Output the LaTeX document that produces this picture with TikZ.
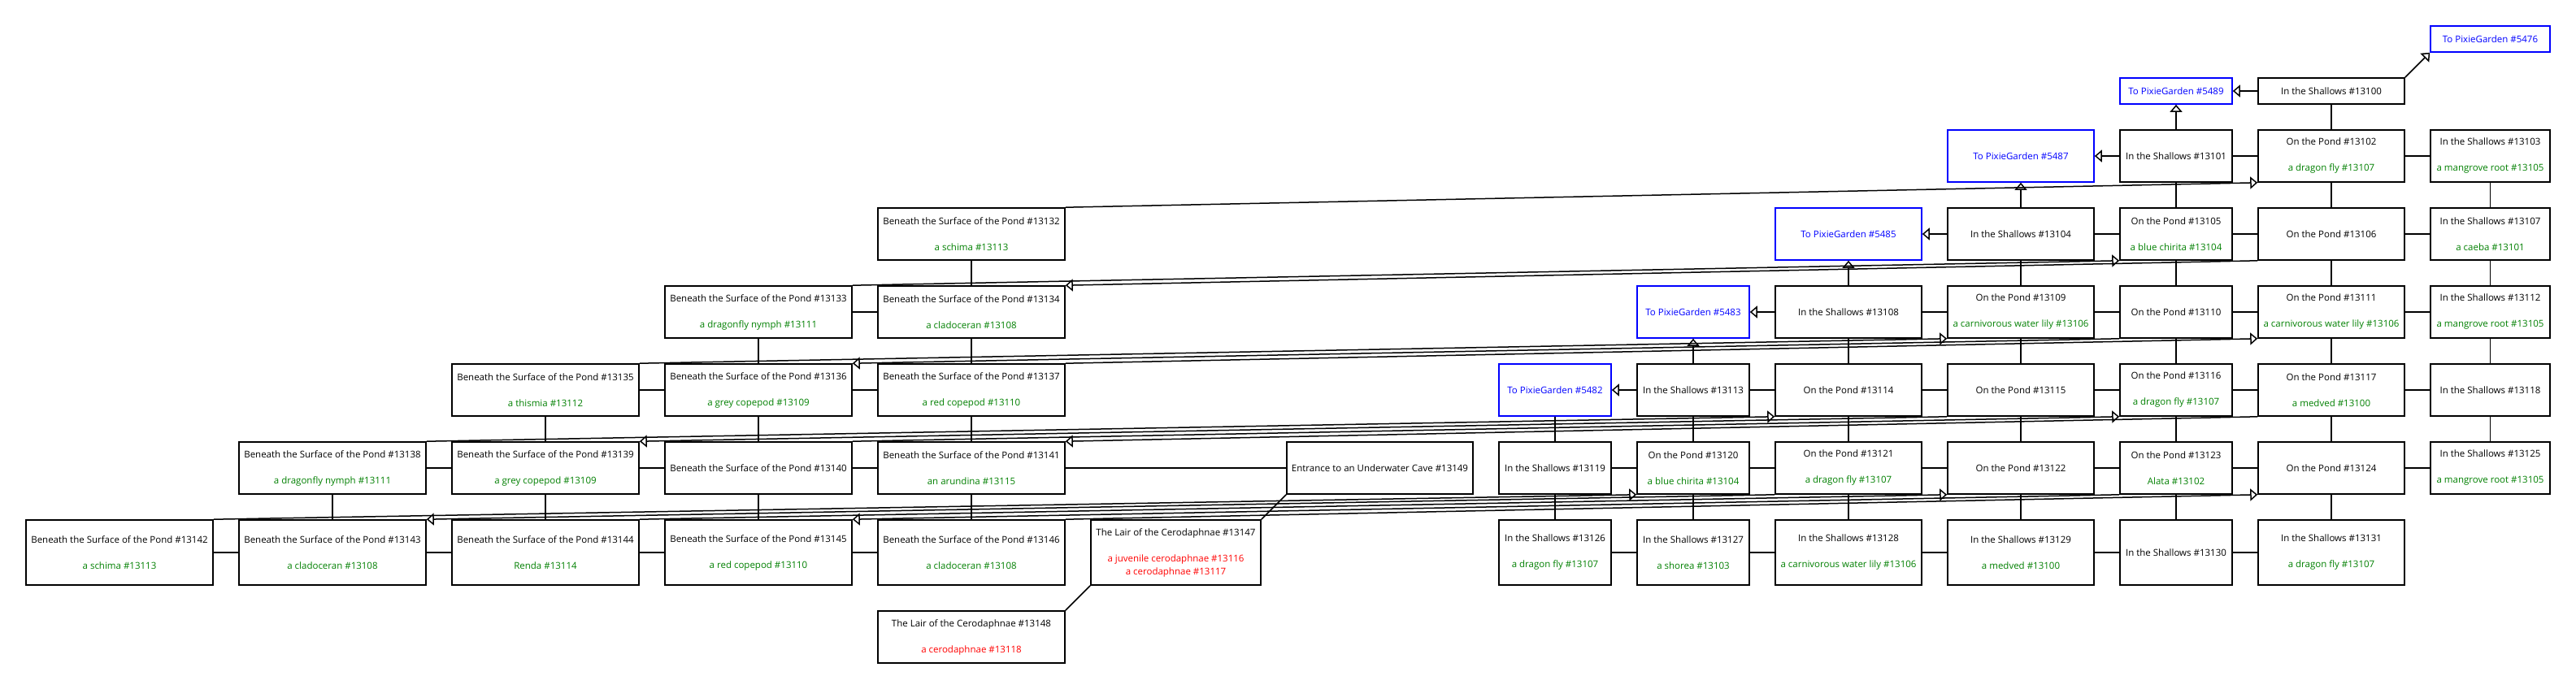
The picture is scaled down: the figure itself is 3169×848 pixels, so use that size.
\documentclass[tikz,border=0pt]{standalone}
\usepackage{fontspec}
\setmainfont{Open Sans}
\usetikzlibrary{arrows.meta}
\definecolor{itemgreen}{RGB}{0,128,0}

\begin{document}
\begin{tikzpicture}[x=1pt, y=-1pt, >={Triangle[fill=white, length=9pt, width=15pt]},
    every node/.style={font=\fontsize{11.5}{16}\selectfont},
    room/.style={draw, line width=1.6pt, fill=white, inner sep=0pt, align=center, minimum height=64pt},
    gate/.style={room, draw=blue, text=blue},
    wide/.style={minimum width=230pt}, mid/.style={minimum width=180pt}, slim/.style={minimum width=138pt},
    flat/.style={minimum height=32pt}, tall/.style={minimum height=80pt},
    link/.style={line width=1.5pt}]
    \useasboundingbox (0,0) rectangle (3169,848);
    % portals
    \node[gate, flat, minimum width=147pt] (p5476) at (3063.5,48) {To PixieGarden \#5476};
    \node[gate, slim, flat] (p5489) at (2677,112) {To PixieGarden \#5489};
    \node[gate, mid] (p5487) at (2486,192) {To PixieGarden \#5487};
    \node[gate, mid] (p5485) at (2274,288) {To PixieGarden \#5485};
    \node[gate, slim] (p5483) at (2083,384) {To PixieGarden \#5483};
    \node[gate, slim] (p5482) at (1913,480) {To PixieGarden \#5482};
    % shallows and pond
    \node[room, mid, flat] (r13100) at (2868,112) {In the Shallows \#13100};
    \node[room, slim] (r13101) at (2677,192) {In the Shallows \#13101};
    \node[room, mid] (r13102) at (2868,192) {On the Pond \#13102\\[16pt]\textcolor{itemgreen}{a dragon fly \#13107}};
    \node[room, minimum width=147pt] (r13103) at (3063.5,192) {In the Shallows \#13103\\[16pt]\textcolor{itemgreen}{a mangrove root \#13105}};
    \node[room, mid] (r13104) at (2486,288) {In the Shallows \#13104};
    \node[room, slim] (r13105) at (2677,288) {On the Pond \#13105\\[16pt]\textcolor{itemgreen}{a blue chirita \#13104}};
    \node[room, mid] (r13106) at (2868,288) {On the Pond \#13106};
    \node[room, minimum width=147pt] (r13107) at (3063.5,288) {In the Shallows \#13107\\[16pt]\textcolor{itemgreen}{a caeba \#13101}};
    \node[room, mid] (r13108) at (2274,384) {In the Shallows \#13108};
    \node[room, mid] (r13109) at (2486,384) {On the Pond \#13109\\[16pt]\textcolor{itemgreen}{a carnivorous water lily \#13106}};
    \node[room, slim] (r13110) at (2677,384) {On the Pond \#13110};
    \node[room, mid] (r13111) at (2868,384) {On the Pond \#13111\\[16pt]\textcolor{itemgreen}{a carnivorous water lily \#13106}};
    \node[room, minimum width=147pt] (r13112) at (3063.5,384) {In the Shallows \#13112\\[16pt]\textcolor{itemgreen}{a mangrove root \#13105}};
    \node[room, slim] (r13113) at (2083,480) {In the Shallows \#13113};
    \node[room, mid] (r13114) at (2274,480) {On the Pond \#13114};
    \node[room, mid] (r13115) at (2486,480) {On the Pond \#13115};
    \node[room, slim] (r13116) at (2677,480) {On the Pond \#13116\\[16pt]\textcolor{itemgreen}{a dragon fly \#13107}};
    \node[room, mid] (r13117) at (2868,480) {On the Pond \#13117\\[16pt]\textcolor{itemgreen}{a medved \#13100}};
    \node[room, minimum width=147pt] (r13118) at (3063.5,480) {In the Shallows \#13118};
    \node[room, slim] (r13119) at (1913,576) {In the Shallows \#13119};
    \node[room, slim] (r13120) at (2083,576) {On the Pond \#13120\\[16pt]\textcolor{itemgreen}{a blue chirita \#13104}};
    \node[room, mid] (r13121) at (2274,576) {On the Pond \#13121\\[16pt]\textcolor{itemgreen}{a dragon fly \#13107}};
    \node[room, mid] (r13122) at (2486,576) {On the Pond \#13122};
    \node[room, slim] (r13123) at (2677,576) {On the Pond \#13123\\[16pt]\textcolor{itemgreen}{Alata \#13102}};
    \node[room, mid] (r13124) at (2868,576) {On the Pond \#13124};
    \node[room, minimum width=147pt] (r13125) at (3063.5,576) {In the Shallows \#13125\\[16pt]\textcolor{itemgreen}{a mangrove root \#13105}};
    \node[room, slim, tall] (r13126) at (1913,680) {In the Shallows \#13126\\[16pt]\textcolor{itemgreen}{a dragon fly \#13107}};
    \node[room, slim, tall] (r13127) at (2083,680) {In the Shallows \#13127\\[16pt]\textcolor{itemgreen}{a shorea \#13103}};
    \node[room, mid, tall] (r13128) at (2274,680) {In the Shallows \#13128\\[16pt]\textcolor{itemgreen}{a carnivorous water lily \#13106}};
    \node[room, mid, tall] (r13129) at (2486,680) {In the Shallows \#13129\\[16pt]\textcolor{itemgreen}{a medved \#13100}};
    \node[room, slim, tall] (r13130) at (2677,680) {In the Shallows \#13130};
    \node[room, mid, tall] (r13131) at (2868,680) {In the Shallows \#13131\\[16pt]\textcolor{itemgreen}{a dragon fly \#13107}};
    % beneath the surface
    \node[room, wide] (r13132) at (1195,288) {Beneath the Surface of the Pond \#13132\\[16pt]\textcolor{itemgreen}{a schima \#13113}};
    \node[room, wide] (r13133) at (933,384) {Beneath the Surface of the Pond \#13133\\[16pt]\textcolor{itemgreen}{a dragonfly nymph \#13111}};
    \node[room, wide] (r13134) at (1195,384) {Beneath the Surface of the Pond \#13134\\[16pt]\textcolor{itemgreen}{a cladoceran \#13108}};
    \node[room, wide] (r13135) at (671,480) {Beneath the Surface of the Pond \#13135\\[16pt]\textcolor{itemgreen}{a thismia \#13112}};
    \node[room, wide] (r13136) at (933,480) {Beneath the Surface of the Pond \#13136\\[16pt]\textcolor{itemgreen}{a grey copepod \#13109}};
    \node[room, wide] (r13137) at (1195,480) {Beneath the Surface of the Pond \#13137\\[16pt]\textcolor{itemgreen}{a red copepod \#13110}};
    \node[room, wide] (r13138) at (409,576) {Beneath the Surface of the Pond \#13138\\[16pt]\textcolor{itemgreen}{a dragonfly nymph \#13111}};
    \node[room, wide] (r13139) at (671,576) {Beneath the Surface of the Pond \#13139\\[16pt]\textcolor{itemgreen}{a grey copepod \#13109}};
    \node[room, wide] (r13140) at (933,576) {Beneath the Surface of the Pond \#13140};
    \node[room, wide] (r13141) at (1195,576) {Beneath the Surface of the Pond \#13141\\[16pt]\textcolor{itemgreen}{an arundina \#13115}};
    \node[room, minimum width=229pt] (r13149) at (1697.5,576) {Entrance to an Underwater Cave \#13149};
    \node[room, wide, tall] (r13142) at (147,680) {Beneath the Surface of the Pond \#13142\\[16pt]\textcolor{itemgreen}{a schima \#13113}};
    \node[room, wide, tall] (r13143) at (409,680) {Beneath the Surface of the Pond \#13143\\[16pt]\textcolor{itemgreen}{a cladoceran \#13108}};
    \node[room, wide, tall] (r13144) at (671,680) {Beneath the Surface of the Pond \#13144\\[16pt]\textcolor{itemgreen}{Renda \#13114}};
    \node[room, wide, tall] (r13145) at (933,680) {Beneath the Surface of the Pond \#13145\\[16pt]\textcolor{itemgreen}{a red copepod \#13110}};
    \node[room, wide, tall] (r13146) at (1195,680) {Beneath the Surface of the Pond \#13146\\[16pt]\textcolor{itemgreen}{a cladoceran \#13108}};
    \node[room, minimum width=209pt, tall] (r13147) at (1446.5,680) {The Lair of the Cerodaphnae \#13147\\[16pt]\textcolor{red}{a juvenile cerodaphnae \#13116}\\\textcolor{red}{a cerodaphnae \#13117}};
    \node[room, wide] (r13148) at (1195,784) {The Lair of the Cerodaphnae \#13148\\[16pt]\textcolor{red}{a cerodaphnae \#13118}};
    % plain exits
    \foreach \a/\b in {r13101/r13102, r13102/r13103, r13104/r13105, r13105/r13106, r13106/r13107,
        r13133/r13134, r13108/r13109, r13109/r13110, r13110/r13111, r13111/r13112,
        r13135/r13136, r13136/r13137, r13113/r13114, r13114/r13115, r13115/r13116, r13116/r13117, r13117/r13118,
        r13138/r13139, r13139/r13140, r13140/r13141, r13141/r13149, r13119/r13120, r13120/r13121,
        r13121/r13122, r13122/r13123, r13123/r13124, r13124/r13125,
        r13142/r13143, r13143/r13144, r13144/r13145, r13145/r13146,
        r13126/r13127, r13127/r13128, r13128/r13129, r13129/r13130, r13130/r13131}
        \draw[link] (\a) -- (\b);
    \foreach \a/\b in {r13100/r13102, r13102/r13106, r13106/r13111, r13111/r13117, r13117/r13124, r13124/r13131,
        r13101/r13105, r13105/r13110, r13110/r13116, r13116/r13123, r13123/r13130,
        r13103/r13107, r13107/r13112, r13112/r13118, r13118/r13125,
        r13104/r13109, r13109/r13115, r13115/r13122, r13122/r13129,
        r13108/r13114, r13114/r13121, r13121/r13128, r13113/r13120, r13120/r13127,
        p5482/r13119, r13119/r13126,
        r13132/r13134, r13134/r13137, r13137/r13141, r13141/r13146,
        r13133/r13136, r13136/r13140, r13140/r13145, r13135/r13139, r13139/r13144, r13138/r13143}
        \draw[link] (\a) -- (\b);
    \draw[link] (r13149.south west) -- (r13147.north east);
    \draw[link] (r13147.south west) -- (r13148.north east);
    % ways out to the garden
    \foreach \a/\b in {r13100/p5489, r13101/p5489, r13101/p5487, r13104/p5487, r13104/p5485,
        r13108/p5485, r13108/p5483, r13113/p5483, r13113/p5482}
        \draw[link, ->] (\a) -- (\b);
    \draw[link, ->] (r13100.north east) -- (p5476.south west);
    % up and down
    \foreach \a/\b in {r13132/r13102, r13133/r13105, r13135/r13109, r13137/r13111, r13138/r13114,
        r13140/r13116, r13142/r13120, r13144/r13122, r13146/r13124}
        \draw[link, ->] (\a.north east) -- (\b.south west);
    \foreach \a/\b in {r13106/r13134, r13110/r13136, r13115/r13139, r13117/r13141, r13121/r13143, r13123/r13145}
        \draw[link, ->] (\a.south west) -- (\b.north east);
\end{tikzpicture}
\end{document}
